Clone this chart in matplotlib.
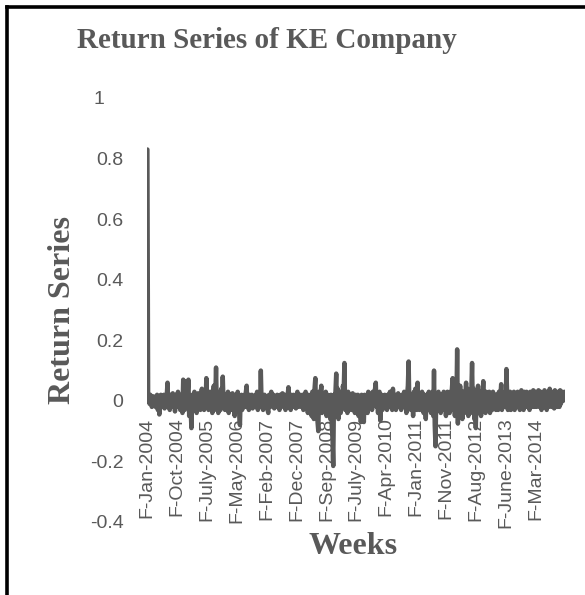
import matplotlib.pyplot as plt  # # For drawing the chart
import matplotlib.transforms as mtransforms  # # For nudging one tick label
from matplotlib.lines import Line2D  # # For the frame lines around the figure
import numpy as np

# # Weekly returns, one list per block of 52 weeks
ret_2004 = [0.83, 0.02, 0.01, -0.01, 0.02, 0.0, -0.02, 0.01, 0.015, -0.01,
            0.005, -0.02, 0.01, 0.02, -0.03, 0.0, -0.045, 0.01, 0.02, -0.02,
            0.015, -0.01, 0.02, -0.025, 0.01, 0.0, 0.02, 0.06, -0.02, 0.01,
            -0.03, 0.02, 0.005, -0.015, 0.025, -0.02, 0.01, -0.035, 0.02, 0.0,
            -0.02, 0.03, -0.01, 0.02, -0.03, 0.01, 0.02, -0.04, 0.07, 0.03,
            -0.03, 0.02]
ret_2005 = [0.065, -0.02, 0.03, 0.07, -0.05, 0.01, -0.03, -0.09, 0.02, 0.01,
            -0.02, 0.03, -0.01, 0.02, -0.04, 0.0, 0.025, -0.02, 0.01, -0.03,
            0.02, 0.04, -0.02, 0.01, -0.03, 0.03, -0.01, 0.075, -0.02, 0.02,
            -0.03, 0.01, 0.03, -0.02, 0.0, -0.04, 0.02, 0.05, -0.03, 0.01,
            0.11, -0.02, 0.03, -0.04, 0.02, 0.01, -0.03, 0.04, -0.02, 0.08,
            -0.01, 0.02]
ret_2006 = [-0.03, 0.02, 0.01, -0.02, 0.03, -0.04, 0.0, 0.02, -0.03, 0.01,
            0.025, -0.02, 0.01, -0.05, 0.02, 0.0, -0.03, 0.03, -0.02, -0.04,
            -0.08, 0.01, 0.02, -0.03, 0.015, -0.01, 0.02, -0.02, 0.03, 0.05,
            -0.02, 0.01, -0.03, 0.02, 0.0, -0.015, 0.02, -0.025, 0.01, 0.015,
            -0.02, 0.02, -0.01, 0.03, -0.03, 0.01, 0.02, -0.02, 0.10, -0.01,
            0.02, -0.03]
ret_2007 = [0.01, 0.02, -0.02, 0.0, 0.015, -0.03, -0.04, 0.02, 0.01, -0.02,
            0.03, -0.01, 0.0, 0.02, -0.025, 0.01, 0.015, -0.02, 0.02, -0.01,
            0.01, -0.03, 0.02, 0.0, -0.02, 0.025, -0.015, 0.01, 0.02, -0.03,
            0.01, -0.01, 0.02, 0.045, -0.02, 0.01, -0.03, 0.02, 0.0, -0.02,
            0.02, -0.01, 0.015, -0.025, 0.01, 0.03, -0.02, 0.01, -0.015, 0.02,
            -0.02, 0.01]
ret_2008 = [0.02, -0.03, 0.01, 0.0, 0.03, -0.02, 0.01, -0.04, 0.02, 0.01,
            -0.03, 0.02, -0.05, 0.03, 0.01, -0.06, 0.04, 0.075, -0.04, 0.02,
            -0.07, -0.10, 0.03, -0.02, 0.02, 0.05, -0.04, 0.01, -0.03, 0.02,
            -0.01, 0.03, -0.05, 0.0, 0.02, -0.04, 0.01, -0.06, 0.02, -0.08,
            -0.12, -0.215, 0.02, -0.05, 0.03, 0.09, -0.03, 0.04, -0.06, 0.02,
            0.03, -0.04]
ret_2009 = [0.02, -0.02, 0.05, 0.03, 0.125, -0.03, 0.02, 0.01, -0.04, 0.03,
            -0.02, 0.01, 0.02, -0.03, 0.0, 0.025, -0.02, 0.01, -0.04, 0.02,
            0.01, -0.03, 0.02, -0.05, 0.015, 0.0, -0.07, 0.02, 0.01, -0.02,
            -0.07, 0.02, 0.01, -0.03, 0.02, -0.04, 0.03, 0.0, -0.02, 0.02,
            0.01, -0.03, 0.03, -0.01, 0.02, 0.04, 0.06, -0.02, 0.01, -0.04,
            0.02, 0.03]
ret_2010 = [-0.065, 0.01, 0.02, -0.03, 0.015, -0.01, 0.02, -0.02, 0.01, -0.03,
            0.02, 0.0, -0.02, 0.03, -0.01, 0.02, -0.03, 0.04, -0.02, 0.01,
            0.02, -0.03, 0.01, -0.01, 0.025, -0.02, 0.01, 0.0, -0.03, 0.02,
            0.01, -0.02, 0.03, -0.02, 0.01, -0.04, 0.02, 0.05, 0.13, -0.02,
            0.02, -0.03, 0.01, 0.02, -0.05, 0.03, -0.02, 0.04, 0.01, -0.03,
            0.06, -0.02]
ret_2011 = [0.02, -0.03, 0.01, -0.02, 0.03, 0.0, -0.04, 0.02, 0.01, -0.06,
            0.02, -0.03, 0.01, 0.03, -0.02, 0.02, -0.04, 0.01, 0.03, -0.05,
            0.10, -0.08, -0.15, 0.02, -0.03, 0.01, 0.03, -0.02, 0.02, -0.04,
            0.01, 0.02, -0.03, 0.03, -0.02, 0.01, -0.05, 0.02, 0.03, -0.03,
            0.02, -0.04, 0.03, -0.02, 0.04, 0.075, -0.03, 0.02, -0.05, 0.06,
            -0.02, 0.17]
ret_2012 = [-0.075, 0.03, -0.04, 0.05, -0.03, 0.02, -0.06, 0.03, 0.01, -0.04,
            0.02, 0.06, -0.03, 0.04, -0.05, 0.02, 0.01, -0.04, 0.03, 0.125,
            -0.03, 0.04, -0.06, 0.02, -0.09, 0.03, -0.02, 0.05, -0.04, 0.02,
            0.03, -0.05, 0.02, 0.01, 0.065, -0.03, 0.02, -0.04, 0.03, 0.01,
            -0.03, 0.02, 0.03, -0.04, 0.01, 0.02, -0.03, 0.03, -0.02, 0.01,
            0.02, -0.03]
ret_2013 = [0.02, 0.01, -0.03, 0.03, -0.02, 0.02, 0.055, -0.03, 0.02, -0.02,
            0.01, 0.03, -0.02, 0.105, 0.02, -0.03, 0.02, -0.01, 0.03, -0.03,
            0.01, 0.02, -0.02, 0.03, -0.03, 0.01, 0.02, -0.02, 0.03, -0.01,
            0.02, -0.03, 0.01, 0.035, -0.02, 0.02, -0.03, 0.03, 0.0, -0.02,
            0.03, -0.02, 0.01, 0.02, -0.03, 0.03, -0.01, 0.02, -0.02, 0.035,
            -0.02, 0.01]
ret_2014 = [0.03, -0.02, 0.02, -0.01, 0.035, -0.02, 0.01, 0.03, -0.03, 0.02,
            0.0, -0.02, 0.035, -0.01, 0.02, -0.03, 0.03, 0.01, -0.02, 0.04,
            -0.01, 0.02, -0.02, 0.03, 0.0, -0.025, 0.035, -0.01, 0.02, -0.02,
            0.03, 0.01, -0.02, 0.035, -0.01, 0.02, 0.03, 0.0, 0.02, 0.03]

# # Category labels shown on the x axis (every 40th week)
week_labels = ["F-Jan-2004", "F-Oct-2004", "F-July-2005", "F-May-2006",
               "F-Feb-2007", "F-Dec-2007", "F-Sep-2008", "F-July-2009",
               "F-Apr-2010", "F-Jan-2011", "F-Nov-2011", "F-Aug-2012",
               "F-June-2013", "F-Mar-2014"]
label_step = 40
y_ticks = [-0.4, -0.2, 0, 0.2, 0.4, 0.6, 0.8, 1]
y_tick_labels = ["-0.4", "-0.2", "0", "0.2", "0.4", "0.6", "0.8", "1"]

returns = np.array(ret_2004 + ret_2005 + ret_2006 + ret_2007 + ret_2008 + ret_2009
                   + ret_2010 + ret_2011 + ret_2012 + ret_2013 + ret_2014)
weeks = np.arange(len(returns))

grey = "#595959"
serif = ["Liberation Serif", "DejaVu Serif"]
sans = ["Liberation Sans", "DejaVu Sans"]

# # Figure with the plot area placed like the Excel original
fig = plt.figure(figsize=(5.85, 5.95), dpi=100)
ax = fig.add_axes([147 / 585, 73 / 595, 418 / 585, 424 / 595])

ax.plot(weeks, returns, color=grey, lw=3.2, solid_joinstyle="round",
        solid_capstyle="round")

ax.set_xlim(-0.5, len(returns) - 0.5)
ax.set_ylim(-0.4, 1)

# # Axis at zero, labels hang just below it
ax.spines["bottom"].set_position(("data", 0))
for side in ["top", "right", "left", "bottom"]:
    ax.spines[side].set_visible(False)

ax.set_xticks(np.arange(len(week_labels)) * label_step)
ax.set_xticklabels(week_labels, rotation=90, fontsize=14, family=sans, color=grey)
ax.set_yticks(y_ticks)
ax.set_yticklabels(y_tick_labels, fontsize=14, family=sans, color=grey)
ax.tick_params(axis="x", length=0, pad=12)
ax.tick_params(axis="y", length=0, pad=17)

# # The "1" label sits further left in the original
top_lbl = ax.get_yticklabels()[-1]
top_lbl.set_transform(top_lbl.get_transform()
                      + mtransforms.ScaledTranslation(-0.19, 0, fig.dpi_scale_trans))

# # Titles in bold serif like the original
fig.text(267 / 585, 1 - 40 / 595, "Return Series of KE Company", ha="center",
         va="center", fontsize=21, fontweight="bold", family=serif, color=grey)
fig.text(62 / 585, 1 - 310 / 595, "Return Series", ha="center", va="center",
         rotation=90, fontsize=23, fontweight="bold", family=serif, color=grey)
fig.text(353 / 585, 1 - 547 / 595, "Weeks", ha="center", va="center",
         fontsize=23, fontweight="bold", family=serif, color=grey)

# # Black frame on the top and left edge
fig.add_artist(Line2D([7 / 585, 1], [1 - 7 / 595, 1 - 7 / 595], color="black",
                      lw=2.6, transform=fig.transFigure))
fig.add_artist(Line2D([7 / 585, 7 / 585], [0, 1 - 7 / 595], color="black",
                      lw=2.6, transform=fig.transFigure))

fig.savefig("out.png", dpi=100)
